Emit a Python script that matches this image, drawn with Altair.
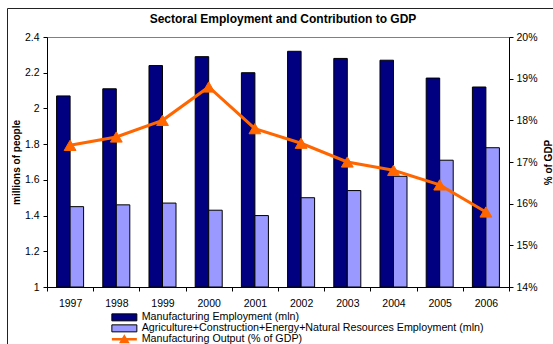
import altair as alt
import pandas as pd

years = ["1997", "1998", "1999", "2000", "2001", "2002", "2003", "2004", "2005", "2006"]
manuf_emp = [2.07, 2.11, 2.24, 2.29, 2.20, 2.32, 2.28, 2.27, 2.17, 2.12]
other_emp = [1.45, 1.46, 1.47, 1.43, 1.40, 1.50, 1.54, 1.62, 1.71, 1.78]
manuf_output = [17.4, 17.6, 18.0, 18.8, 17.8, 17.45, 17.0, 16.8, 16.45, 15.8]

series_names = [
    "Manufacturing Employment (mln)",
    "Agriculture+Construction+Energy+Natural Resources Employment (mln)",
    "Manufacturing Output (% of GDP)",
]
series_colors = ["#000080", "#9999FF", "#FF6600"]
left_ticks = [1.0, 1.2, 1.4, 1.6, 1.8, 2.0, 2.2, 2.4]
right_ticks = [14, 15, 16, 17, 18, 19, 20]
chart_title = "Sectoral Employment and Contribution to GDP"

FONT = "Liberation Sans"

bars_df = pd.DataFrame(
    {
        "year": years * 2,
        "value": manuf_emp + other_emp,
        "series": [series_names[0]] * len(years) + [series_names[1]] * len(years),
    }
)
line_df = pd.DataFrame(
    {"year": years, "value": manuf_output, "series": [series_names[2]] * len(years)}
)

bar_path = "M-3.57,-1L3.57,-1L3.57,1L-3.57,1Z"
line_path = "M-3.57,0L3.57,0M-0.9,0.75L0,-0.75L0.9,0.75Z"

common_legend = dict(
    title=None,
    orient="none",
    direction="vertical",
    symbolSize=49,
    symbolOpacity=1,
    labelFont=FONT,
    labelFontSize=10.7,
    labelColor="black",
    labelOffset=12,
    padding=0,
    labelLimit=600,
)

bar_legend = alt.Legend(
    legendX=72,
    legendY=275,
    symbolType=bar_path,
    symbolStrokeColor="black",
    symbolStrokeWidth=1,
    rowPadding=-2,
    **common_legend,
)
line_legend = alt.Legend(
    legendX=72,
    legendY=297,
    symbolType=line_path,
    symbolFillColor="#FF6600",
    symbolStrokeWidth=2.5,
    **common_legend,
)

x_enc = alt.X(
    "year:N",
    sort=years,
    scale=alt.Scale(paddingInner=0, paddingOuter=0),
    axis=alt.Axis(
        title=None,
        labelAngle=0,
        tickBand="extent",
        tickSize=4,
        labelPadding=7,
    ),
)

bars = (
    alt.Chart(bars_df)
    .mark_bar(stroke="black", strokeWidth=1)
    .encode(
        x=x_enc,
        xOffset=alt.XOffset(
            "series:N",
            sort=series_names[:2],
            scale=alt.Scale(domain=series_names[:2], paddingOuter=0.71, paddingInner=0),
        ),
        y=alt.Y(
            "value:Q",
            scale=alt.Scale(domain=[1, 2.4], zero=False, nice=False),
            axis=alt.Axis(
                title="millions of people",
                values=left_ticks,
                format="~g",
                tickSize=4,
                labelPadding=4,
                titlePadding=3,
                orient="left",
            ),
        ),
        y2=alt.datum(1),
        fill=alt.Fill(
            "series:N",
            sort=series_names[:2],
            scale=alt.Scale(domain=series_names[:2], range=series_colors[:2]),
            legend=bar_legend,
        ),
    )
)

line = (
    alt.Chart(line_df)
    .mark_line(
        strokeWidth=3,
        point=alt.OverlayMarkDef(
            shape="triangle-up", size=140, filled=True, fill="#FF6600", strokeWidth=1
        ),
    )
    .encode(
        x=alt.X("year:N", sort=years),
        y=alt.Y(
            "value:Q",
            scale=alt.Scale(domain=[14, 20], zero=False, nice=False),
            axis=alt.Axis(
                title="% of GDP",
                values=right_ticks,
                labelExpr="datum.value + '%'",
                tickSize=4,
                labelPadding=3,
                titlePadding=16,
                titleAngle=270,
                orient="right",
            ),
        ),
        stroke=alt.Stroke(
            "series:N",
            scale=alt.Scale(domain=series_names[2:], range=series_colors[2:]),
            legend=line_legend,
        ),
    )
)

border = (
    alt.Chart(pd.DataFrame({"a": [0]}))
    .mark_rect(filled=False, stroke="#222222", strokeWidth=1)
    .encode(
        x=alt.value(-39.5),
        x2=alt.value(700),
        y=alt.value(-28.5),
        y2=alt.value(500),
    )
)

title_text = (
    alt.Chart(pd.DataFrame({"t": [chart_title]}))
    .mark_text(
        font=FONT,
        fontSize=12,
        fontWeight="bold",
        color="black",
        align="center",
        baseline="alphabetic",
    )
    .encode(text="t:N", x=alt.value(236), y=alt.value(-14))
)

chart = (
    alt.layer(bars, line, border, title_text)
    .resolve_scale(y="independent")
    .properties(
        width=462,
        height=250,
        padding={"left": 47, "top": 37, "right": 44, "bottom": 57},
        autosize=alt.AutoSizeParams(type="none"),
        background="white",
    )
    .configure_view(stroke="#808080", strokeWidth=1)
    .configure_axis(
        grid=False,
        labelFont=FONT,
        labelFontSize=10.5,
        labelColor="black",
        titleFont=FONT,
        titleFontSize=10,
        titleFontWeight="bold",
        titleColor="black",
        domainColor="black",
        tickColor="black",
    )
)

chart.save("out.html", embed_options={"renderer": "svg", "actions": False})
